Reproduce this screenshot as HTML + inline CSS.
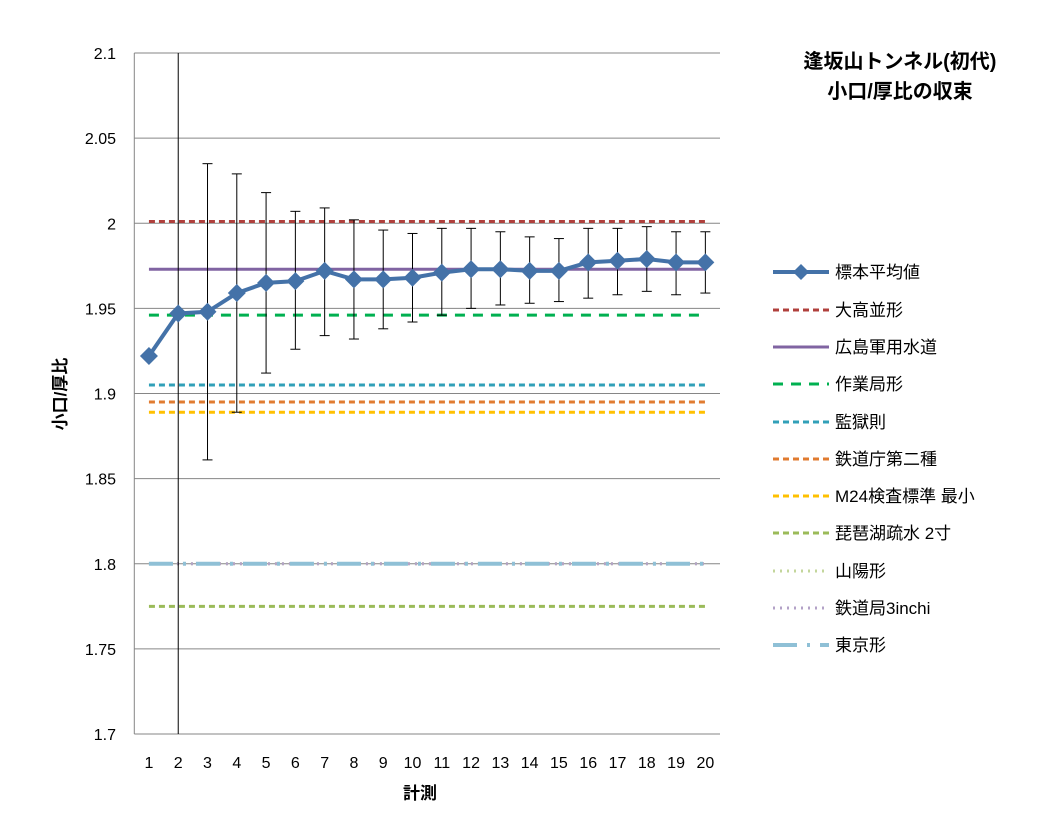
<!DOCTYPE html>
<html><head><meta charset="utf-8"><style>
body{margin:0;background:#fff}
svg text{font-family:"Liberation Sans","Noto Sans CJK JP",sans-serif;fill:#000}
</style></head><body>
<svg id="chart" width="1064" height="827" xmlns="http://www.w3.org/2000/svg">
<rect width="1064" height="827" fill="#fff"/>
<g id="grid"></g><g id="refs"></g><g id="errs"></g><g id="series"></g><g id="axes"></g><g id="legend"></g>
<text x="900" y="68" font-size="20" font-weight="bold" text-anchor="middle">逢坂山トンネル(初代)</text>
<text x="900" y="98" font-size="20" font-weight="bold" text-anchor="middle">小口/厚比の収束</text>
<text transform="translate(66,394) rotate(-90)" font-size="17" font-weight="bold" text-anchor="middle">小口/厚比</text>
<text x="420" y="799" font-size="17" font-weight="bold" text-anchor="middle">計測</text>
</svg>
<script>
const categories=[1,2,3,4,5,6,7,8,9,10,11,12,13,14,15,16,17,18,19,20];
const means=[1.922,1.947,1.948,1.959,1.965,1.966,1.972,1.967,1.967,1.968,1.971,1.973,1.973,1.972,1.972,1.977,1.978,1.979,1.977,1.977];
const errHigh=[null,2.3,2.035,2.029,2.018,2.007,2.009,2.002,1.996,1.994,1.997,1.997,1.995,1.992,1.991,1.997,1.997,1.998,1.995,1.995];
const errLow=[null,1.6,1.861,1.889,1.912,1.926,1.934,1.932,1.938,1.942,1.946,1.950,1.952,1.953,1.954,1.956,1.958,1.960,1.958,1.959];
const yTicks=[1.7,1.75,1.8,1.85,1.9,1.95,2,2.05,2.1];
const yTickLabels=["1.7","1.75","1.8","1.85","1.9","1.95","2","2.05","2.1"];
const refNames=["大高並形","広島軍用水道","作業局形","監獄則","鉄道庁第二種","M24検査標準 最小","琵琶湖疏水 2寸","山陽形","鉄道局3inchi","東京形"];
const refValues=[2.001,1.973,1.946,1.905,1.895,1.889,1.775,1.8,1.8,1.8];
const refColors=["#b0403c","#8064a2","#00b050","#31a0b8","#e07b30","#ffc000","#9bbb59","#c3d69b","#b3a2c7","#8fc0d6"];
const refDash=["6,4","","10,8","6,4","6,4","6,4","6,4","2,5","2,5","24,10,3,10"];
const refWidth=[3,3,3,3,3,3,3,3,3,4];
const ns="http://www.w3.org/2000/svg";
const X0=134.3,X1=720,Y0=734,Y1=53,VMIN=1.7,VMAX=2.1;
const step=(X1-X0)/categories.length;
function xs(i){return X0+step*(i+0.5);}
function ys(v){return Y0-(v-VMIN)/(VMAX-VMIN)*(Y0-Y1);}
function mk(tag,parent,attrs){const e=document.createElementNS(ns,tag);for(const k in attrs)e.setAttribute(k,attrs[k]);document.getElementById(parent).appendChild(e);return e;}
yTicks.forEach((t,i)=>{
 const g=mk('line','grid',{x1:X0,x2:X1,y1:ys(t),y2:ys(t),stroke:'#868686','stroke-width':1});
 
 
 const l=mk('text','axes',{x:116,y:ys(t)+6,'font-size':16,'text-anchor':'end'});
 l.textContent=yTickLabels[i];
 
 
});
const ax=mk('line','axes',{x1:X0,x2:X0,y1:Y1,y2:Y0,stroke:'#868686','stroke-width':1});


categories.forEach((c,i)=>{
 const l=mk('text','axes',{x:xs(i),y:768,'font-size':16,'text-anchor':'middle'});
 l.textContent=c;
 
 
});
refValues.forEach((v,i)=>{
 const a={x1:xs(0),x2:xs(categories.length-1),y1:ys(v),y2:ys(v),stroke:refColors[i],'stroke-width':refWidth[i]};
 if(refDash[i])a['stroke-dasharray']=refDash[i];
 const l=mk('line','refs',a);
 
 
});
means.forEach((m,i)=>{
 if(errHigh[i]==null)return;
 const hi=Math.max(ys(errHigh[i]),Y1),lo=Math.min(ys(errLow[i]),Y0);
 const e=mk('line','errs',{x1:xs(i),x2:xs(i),y1:hi,y2:lo,stroke:'#000','stroke-width':1});
 
 
 if(ys(errHigh[i])>=Y1){const c=mk('line','errs',{x1:xs(i)-5,x2:xs(i)+5,y1:hi,y2:hi,stroke:'#000','stroke-width':1});}
 if(ys(errLow[i])<=Y0){const c=mk('line','errs',{x1:xs(i)-5,x2:xs(i)+5,y1:lo,y2:lo,stroke:'#000','stroke-width':1});}
});
const pl=mk('polyline','series',{points:means.map((m,i)=>xs(i)+','+ys(m)).join(' '),fill:'none',stroke:'#4472a8','stroke-width':4});


means.forEach((m,i)=>{
 const x=xs(i),y=ys(m);
 const d=mk('polygon','series',{points:`${x},${y-9} ${x+9},${y} ${x},${y+9} ${x-9},${y}`,fill:'#4472a8'});
 
 
});
const legY=[272,310,347,384,422,459,496,533,571,608,645];
const l0=mk('line','legend',{x1:773,x2:829,y1:legY[0],y2:legY[0],stroke:'#4472a8','stroke-width':4});


const ld=mk('polygon','legend',{points:`801,${legY[0]-8} 809,${legY[0]} 801,${legY[0]+8} 793,${legY[0]}`,fill:'#4472a8'});


const t0=mk('text','legend',{x:835,y:legY[0]+6,'font-size':17});
t0.textContent='標本平均値';


refNames.forEach((n,i)=>{
 const y=legY[i+1];
 const a={x1:773,x2:829,y1:y,y2:y,stroke:refColors[i],'stroke-width':refWidth[i]};
 if(refDash[i])a['stroke-dasharray']=refDash[i];
 const s=mk('line','legend',a);
 
 
 const t=mk('text','legend',{x:835,y:y+6,'font-size':17});
 t.textContent=n;
 
 
});
</script>
</body></html>
